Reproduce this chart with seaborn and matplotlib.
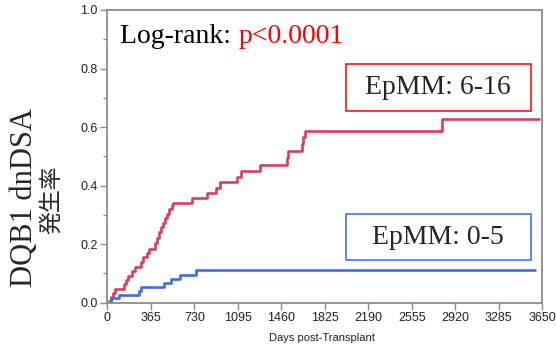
import matplotlib
matplotlib.use('Agg')
import matplotlib.pyplot as plt
import pandas as pd
import seaborn as sns
from matplotlib.patches import Rectangle
from matplotlib.ticker import MultipleLocator

sns.set_style('ticks')
plt.rcParams['font.family'] = ['Liberation Sans', 'DejaVu Sans']

# ── Data (cumulative incidence) ──────────────────────────────────────────────
days_hi = [0, 15, 31, 50, 64, 140, 157, 174, 210, 230, 280, 302, 336, 352, 397,
           414, 434, 453, 470, 487, 503, 520, 546, 554, 708, 834, 912, 946,
           1091, 1122, 1281, 1505, 1519, 1631, 1645, 1661, 2811, 3622]
inc_hi = [0, 0.007, 0.019, 0.032, 0.048, 0.064, 0.078, 0.091, 0.108, 0.123,
          0.140, 0.155, 0.169, 0.182, 0.203, 0.220, 0.243, 0.260, 0.273, 0.288,
          0.303, 0.319, 0.334, 0.342, 0.358, 0.376, 0.392, 0.412, 0.428, 0.450,
          0.472, 0.494, 0.518, 0.542, 0.565, 0.588, 0.628, 0.628]

days_lo = [0, 31, 98, 266, 285, 478, 532, 610, 744, 3589]
inc_lo = [0, 0.016, 0.028, 0.041, 0.054, 0.067, 0.082, 0.096, 0.113, 0.113]

group_names = ['EpMM: 6-16', 'EpMM: 0-5']
group_colors = ['#d6405a', '#3d6fe0']
x_ticks = [0, 365, 730, 1095, 1460, 1825, 2190, 2555, 2920, 3285, 3650]

df = pd.concat([
    pd.DataFrame({'day': days_hi, 'inc': inc_hi, 'group': group_names[0]}),
    pd.DataFrame({'day': days_lo, 'inc': inc_lo, 'group': group_names[1]}),
])

W, H = 556, 351
fig = plt.figure(figsize=(W / 100, H / 100), dpi=100)
ax = fig.add_axes([107.3 / W, 1 - 302.7 / H, 435 / W, 292.7 / H])

sns.lineplot(data=df, x='day', y='inc', hue='group', hue_order=group_names,
             palette=group_colors, drawstyle='steps-post', linewidth=1.9,
             estimator=None, legend=False, ax=ax)

ax.set_xlim(0, 3650)
ax.set_ylim(0, 1.0)
ax.set_xticks(x_ticks)
ax.yaxis.set_major_locator(MultipleLocator(0.2))
ax.yaxis.set_minor_locator(MultipleLocator(0.1))
ax.set_yticklabels([f'{v:.1f}' for v in ax.get_yticks()])
ax.set_xlabel('')
ax.set_ylabel('')

for s in ax.spines.values():
    s.set_color('#8c8c8c')
    s.set_linewidth(1.3)
ax.tick_params(which='major', length=5, width=1, color='#8c8c8c',
               labelsize=9, labelcolor='#222222', pad=2)
ax.tick_params(which='minor', length=3, width=1, color='#8c8c8c')

# ── Annotations ──────────────────────────────────────────────────────────────
t = ax.text(120.5 / W, 1 - 42.7 / H, 'Log-rank: ', transform=fig.transFigure,
            fontsize=20, family='Liberation Serif', color='black',
            va='baseline', ha='left')
ax.annotate('p<0.0001', xy=(1, 0), xycoords=t, va='bottom', ha='left',
            fontsize=20, family='Liberation Serif', color='red')

boxes = [(345.7, 64.3, 531, 111, 'red'), (345.7, 214.3, 531, 260, '#3366ff')]
for name, (x0, y0, x1, y1, ec) in zip(group_names, boxes):
    fig.patches.append(Rectangle((x0 / W, 1 - y1 / H), (x1 - x0) / W,
                                 (y1 - y0) / H, transform=fig.transFigure,
                                 fill=False, edgecolor=ec, linewidth=1.1))
    fig.text((x0 + x1) / 2 / W, 1 - (y0 + y1) / 2 / H, name,
             fontsize=20, family='Liberation Serif', ha='center', va='center')

fig.text(25 / W, 1 - 198 / H, 'DQB1 dnDSA', rotation=90, fontsize=22,
         family='Liberation Serif', ha='center', va='center')
fig.text(52 / W, 1 - 200 / H, '発生率', rotation=90, fontsize=16.5,
         family=['Noto Sans CJK JP', 'DejaVu Sans'], ha='center', va='center')
fig.text(322 / W, 1 - 338 / H, 'Days post-Transplant', fontsize=8,
         color='#222222', ha='center', va='center')

fig.savefig('out.png', dpi=100)
plt.close(fig)
print('out.png')
